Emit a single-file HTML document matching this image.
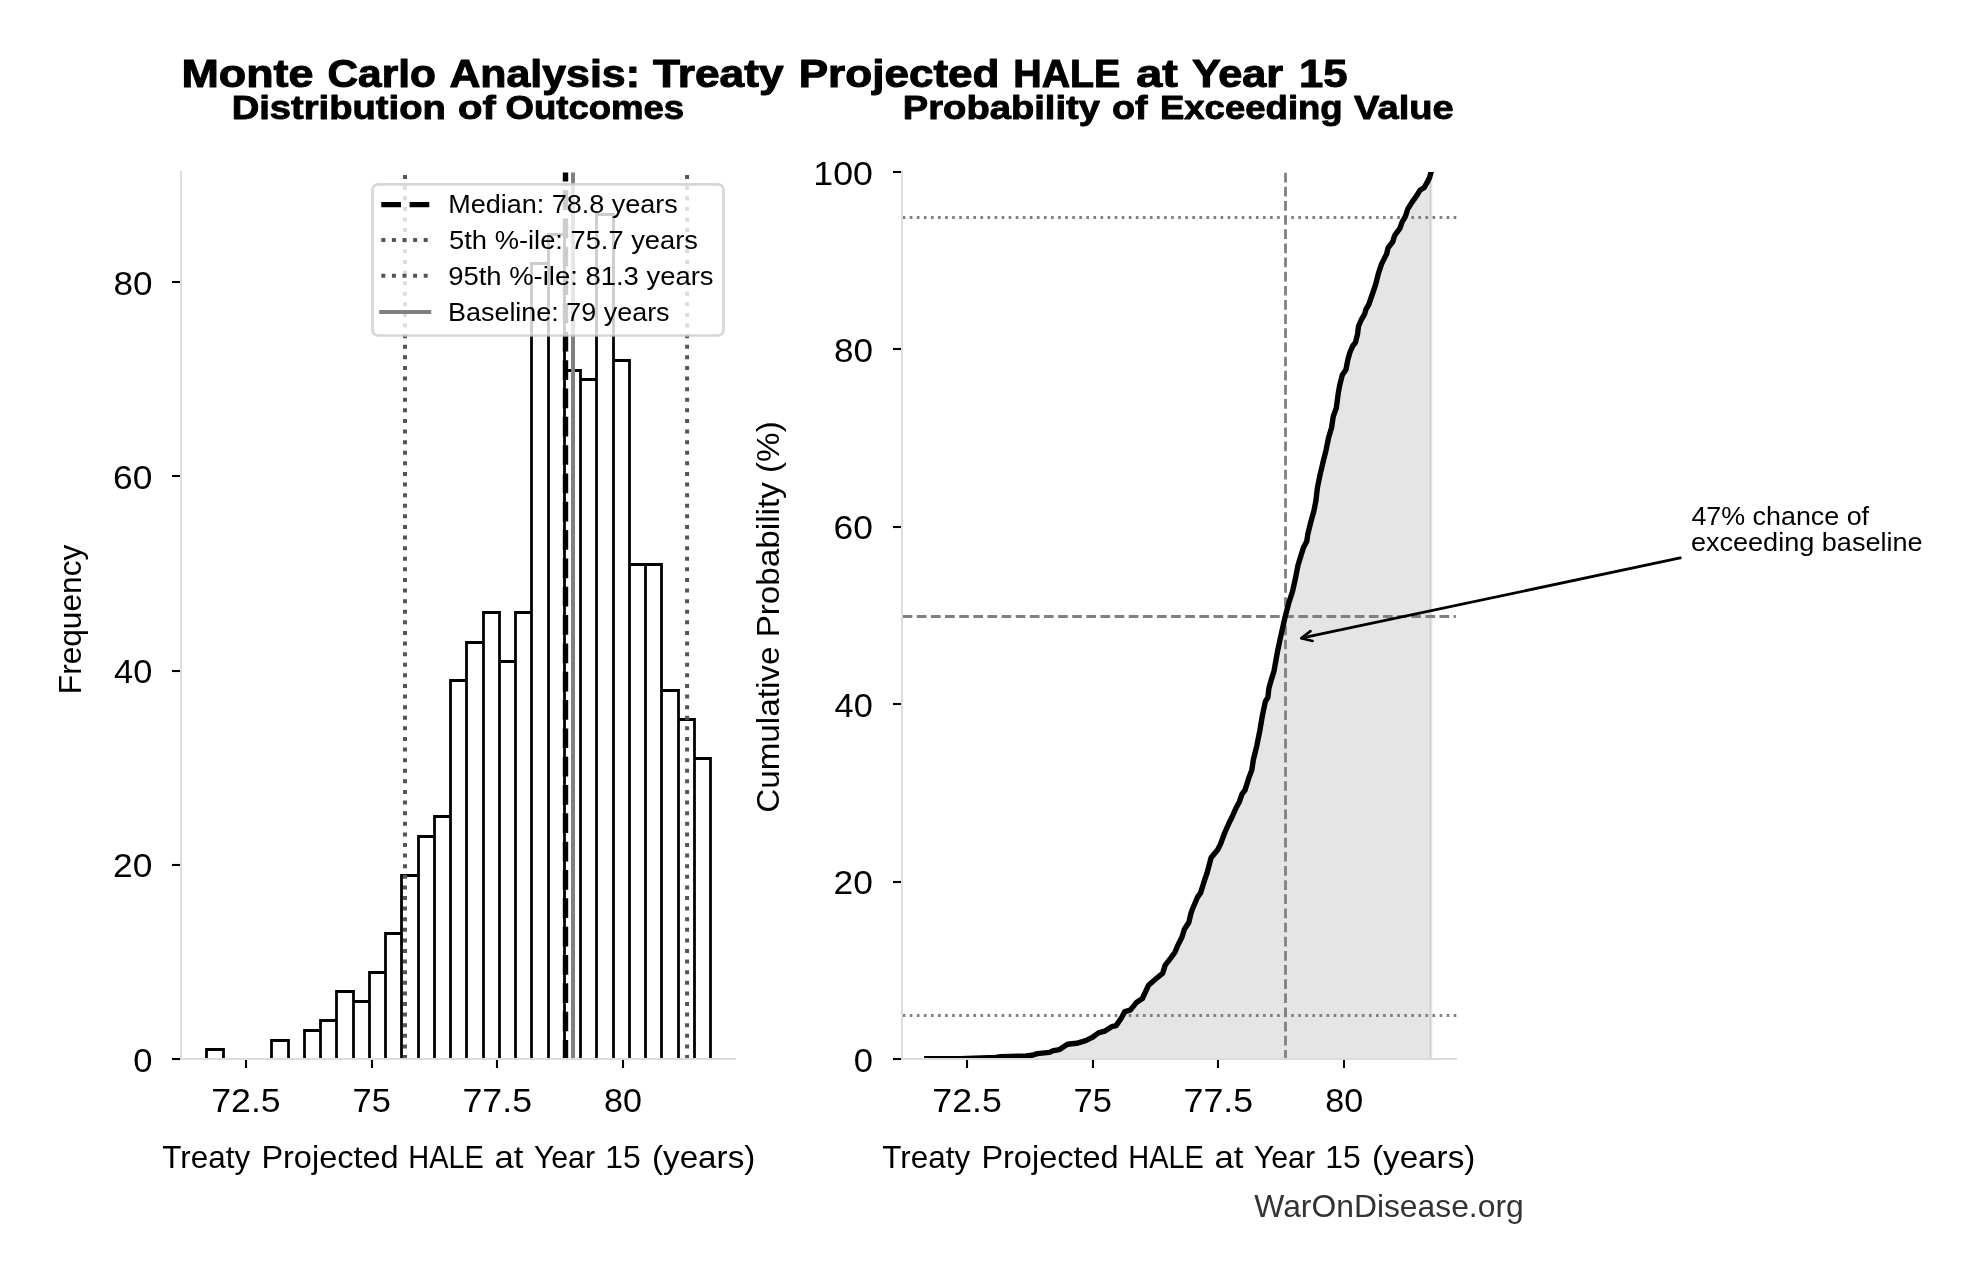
<!DOCTYPE html>
<html lang="en"><head><meta charset="utf-8"><title>Monte Carlo Analysis: Treaty Projected HALE at Year 15</title><style>html,body{margin:0;padding:0;background:#fff;}body{width:1979px;height:1280px;overflow:hidden;font-family:"Liberation Sans", sans-serif;}svg text{white-space:pre;}</style></head><body>
<svg width="1979" height="1280" viewBox="0 0 1979 1280" font-family='"Liberation Sans", sans-serif' style="display:block;will-change:transform">
<rect width="1979" height="1280" fill="#fff"/>
<text x="181.5" y="86.9" font-size="38.1" text-anchor="start" font-weight="bold" fill="#000" textLength="132.0" lengthAdjust="spacingAndGlyphs" stroke="#000" stroke-width="1.0" stroke-linejoin="round">Monte</text>
<text x="327.5" y="86.9" font-size="38.1" text-anchor="start" font-weight="bold" fill="#000" textLength="108.4" lengthAdjust="spacingAndGlyphs" stroke="#000" stroke-width="1.0" stroke-linejoin="round">Carlo</text>
<text x="449.4" y="86.9" font-size="38.1" text-anchor="start" font-weight="bold" fill="#000" textLength="190.6" lengthAdjust="spacingAndGlyphs" stroke="#000" stroke-width="1.0" stroke-linejoin="round">Analysis:</text>
<text x="653.1" y="86.9" font-size="38.1" text-anchor="start" font-weight="bold" fill="#000" textLength="130.5" lengthAdjust="spacingAndGlyphs" stroke="#000" stroke-width="1.0" stroke-linejoin="round">Treaty</text>
<text x="798.7" y="86.9" font-size="38.1" text-anchor="start" font-weight="bold" fill="#000" textLength="200.8" lengthAdjust="spacingAndGlyphs" stroke="#000" stroke-width="1.0" stroke-linejoin="round">Projected</text>
<text x="1013.2" y="86.9" font-size="38.1" text-anchor="start" font-weight="bold" fill="#000" textLength="107.2" lengthAdjust="spacingAndGlyphs" stroke="#000" stroke-width="1.0" stroke-linejoin="round">HALE</text>
<text x="1136.3" y="86.9" font-size="38.1" text-anchor="start" font-weight="bold" fill="#000" textLength="41.6" lengthAdjust="spacingAndGlyphs" stroke="#000" stroke-width="1.0" stroke-linejoin="round">at</text>
<text x="1191.9" y="86.9" font-size="38.1" text-anchor="start" font-weight="bold" fill="#000" textLength="91.3" lengthAdjust="spacingAndGlyphs" stroke="#000" stroke-width="1.0" stroke-linejoin="round">Year</text>
<text x="1299.1" y="86.9" font-size="38.1" text-anchor="start" font-weight="bold" fill="#000" textLength="48.5" lengthAdjust="spacingAndGlyphs" stroke="#000" stroke-width="1.0" stroke-linejoin="round">15</text>
<text x="231.7" y="119.0" font-size="32.8" text-anchor="start" font-weight="bold" fill="#000" textLength="214.1" lengthAdjust="spacingAndGlyphs" stroke="#000" stroke-width="0.9" stroke-linejoin="round">Distribution</text>
<text x="458.0" y="119.0" font-size="32.8" text-anchor="start" font-weight="bold" fill="#000" textLength="37.8" lengthAdjust="spacingAndGlyphs" stroke="#000" stroke-width="0.9" stroke-linejoin="round">of</text>
<text x="505.5" y="119.0" font-size="32.8" text-anchor="start" font-weight="bold" fill="#000" textLength="178.7" lengthAdjust="spacingAndGlyphs" stroke="#000" stroke-width="0.9" stroke-linejoin="round">Outcomes</text>
<text x="902.8" y="119.0" font-size="32.8" text-anchor="start" font-weight="bold" fill="#000" textLength="197.1" lengthAdjust="spacingAndGlyphs" stroke="#000" stroke-width="0.9" stroke-linejoin="round">Probability</text>
<text x="1111.9" y="119.0" font-size="32.8" text-anchor="start" font-weight="bold" fill="#000" textLength="35.6" lengthAdjust="spacingAndGlyphs" stroke="#000" stroke-width="0.9" stroke-linejoin="round">of</text>
<text x="1159.9" y="119.0" font-size="32.8" text-anchor="start" font-weight="bold" fill="#000" textLength="182.8" lengthAdjust="spacingAndGlyphs" stroke="#000" stroke-width="0.9" stroke-linejoin="round">Exceeding</text>
<text x="1354.1" y="119.0" font-size="32.8" text-anchor="start" font-weight="bold" fill="#000" textLength="99.7" lengthAdjust="spacingAndGlyphs" stroke="#000" stroke-width="0.9" stroke-linejoin="round">Value</text>
<path d="M206.50 1059.0V1049.50H223.50V1059.0M271.50 1059.0V1040.50H288.50V1059.0M304.50 1059.0V1030.50H320.50V1059.0M320.50 1059.0V1020.50H336.50V1059.0M336.50 1059.0V991.50H353.50V1059.0M353.50 1059.0V1001.50H369.50V1059.0M369.50 1059.0V972.50H385.50V1059.0M385.50 1059.0V933.50H401.50V1059.0M401.50 1059.0V875.50H418.50V1059.0M418.50 1059.0V836.50H434.50V1059.0M434.50 1059.0V816.50H450.50V1059.0M450.50 1059.0V680.50H466.50V1059.0M466.50 1059.0V642.50H483.50V1059.0M483.50 1059.0V612.50H499.50V1059.0M499.50 1059.0V661.50H515.50V1059.0M515.50 1059.0V612.50H531.50V1059.0M531.50 1059.0V263.50H548.50V1059.0M548.50 1059.0V234.50H564.50V1059.0M564.50 1059.0V370.50H580.50V1059.0M580.50 1059.0V379.50H596.50V1059.0M596.50 1059.0V214.50H613.50V1059.0M613.50 1059.0V360.50H629.50V1059.0M629.50 1059.0V564.50H645.50V1059.0M645.50 1059.0V564.50H661.50V1059.0M661.50 1059.0V690.50H678.50V1059.0M678.50 1059.0V719.50H694.50V1059.0M694.50 1059.0V758.50H710.50V1059.0" fill="#fff" stroke="#000" stroke-width="2.78" stroke-linejoin="miter"/>
<path d="M565.5 1059.7V172.4" stroke="#000" stroke-width="5.4" stroke-dasharray="19.72 8.606" fill="none"/>
<path d="M405.0 1059.0V172.4" stroke="#555" stroke-width="4" stroke-dasharray="4 6.601" fill="none"/>
<path d="M687.1 1059.0V172.4" stroke="#555" stroke-width="4" stroke-dasharray="4 6.601" fill="none"/>
<path d="M573.0 1059.7V172.4" stroke="#808080" stroke-width="4" fill="none"/>
<path d="M181.0 171.0V1060.0" stroke="#dcdcdc" stroke-width="2" fill="none"/>
<path d="M180.0 1059.0H735.9" stroke="#dcdcdc" stroke-width="2" fill="none"/>
<path d="M246 1060.0v8.0" stroke="#000" stroke-width="2.1"/>
<text x="211.2" y="1111.9" font-size="32.5" text-anchor="start" fill="#000" textLength="69.5" lengthAdjust="spacingAndGlyphs">72.5</text>
<path d="M372 1060.0v8.0" stroke="#000" stroke-width="2.1"/>
<text x="352.5" y="1111.9" font-size="32.5" text-anchor="start" fill="#000" textLength="38.3" lengthAdjust="spacingAndGlyphs">75</text>
<path d="M497 1060.0v8.0" stroke="#000" stroke-width="2.1"/>
<text x="462.5" y="1111.9" font-size="32.5" text-anchor="start" fill="#000" textLength="69.5" lengthAdjust="spacingAndGlyphs">77.5</text>
<path d="M623 1060.0v8.0" stroke="#000" stroke-width="2.1"/>
<text x="604.1" y="1111.9" font-size="32.5" text-anchor="start" fill="#000" textLength="37.9" lengthAdjust="spacingAndGlyphs">80</text>
<path d="M180.0 1059h-8.0" stroke="#000" stroke-width="2.1"/>
<text x="133.2" y="1071.7" font-size="32.5" text-anchor="start" fill="#000" textLength="19.2" lengthAdjust="spacingAndGlyphs">0</text>
<path d="M180.0 865h-8.0" stroke="#000" stroke-width="2.1"/>
<text x="113.1" y="877.4" font-size="32.5" text-anchor="start" fill="#000" textLength="39.3" lengthAdjust="spacingAndGlyphs">20</text>
<path d="M180.0 671h-8.0" stroke="#000" stroke-width="2.1"/>
<text x="114.1" y="683.2" font-size="32.5" text-anchor="start" fill="#000" textLength="38.2" lengthAdjust="spacingAndGlyphs">40</text>
<path d="M180.0 476h-8.0" stroke="#000" stroke-width="2.1"/>
<text x="113.1" y="488.9" font-size="32.5" text-anchor="start" fill="#000" textLength="39.3" lengthAdjust="spacingAndGlyphs">60</text>
<path d="M180.0 282h-8.0" stroke="#000" stroke-width="2.1"/>
<text x="113.4" y="294.6" font-size="32.5" text-anchor="start" fill="#000" textLength="39.0" lengthAdjust="spacingAndGlyphs">80</text>
<text x="162.3" y="1167.8" font-size="31.1" text-anchor="start" fill="#000" textLength="87.8" lengthAdjust="spacingAndGlyphs">Treaty</text>
<text x="261.4" y="1167.8" font-size="31.1" text-anchor="start" fill="#000" textLength="137.2" lengthAdjust="spacingAndGlyphs">Projected</text>
<text x="408.3" y="1167.8" font-size="31.1" text-anchor="start" fill="#000" textLength="75.6" lengthAdjust="spacingAndGlyphs">HALE</text>
<text x="494.6" y="1167.8" font-size="31.1" text-anchor="start" fill="#000" textLength="28.9" lengthAdjust="spacingAndGlyphs">at</text>
<text x="533.9" y="1167.8" font-size="31.1" text-anchor="start" fill="#000" textLength="61.1" lengthAdjust="spacingAndGlyphs">Year</text>
<text x="605.2" y="1167.8" font-size="31.1" text-anchor="start" fill="#000" textLength="35.5" lengthAdjust="spacingAndGlyphs">15</text>
<text x="652.0" y="1167.8" font-size="31.1" text-anchor="start" fill="#000" textLength="103.3" lengthAdjust="spacingAndGlyphs">(years)</text>
<text transform="translate(80.9,694.2) rotate(-90)" font-size="31.1" text-anchor="start" fill="#000" textLength="149.5" lengthAdjust="spacingAndGlyphs">Frequency</text>
<rect x="372.5" y="184.3" width="351.0" height="151.2" rx="5.5" ry="5.5" fill="#fff" fill-opacity="0.8" stroke="#ccc" stroke-opacity="0.8" stroke-width="2.7"/>
<path d="M381.3 204.6H430.8" stroke="#000" stroke-width="5.4" stroke-dasharray="19.7 8.6" fill="none"/>
<path d="M381.3 240.0H430.8" stroke="#555" stroke-width="4" stroke-dasharray="4 6.6" fill="none"/>
<path d="M381.3 275.8H430.8" stroke="#555" stroke-width="4" stroke-dasharray="4 6.6" fill="none"/>
<path d="M379.2 312.0H431.2" stroke="#808080" stroke-width="4" fill="none"/>
<text x="448.2" y="212.8" font-size="25.7" text-anchor="start" fill="#000" textLength="229.6" lengthAdjust="spacingAndGlyphs">Median: 78.8 years</text>
<text x="449.1" y="248.7" font-size="25.7" text-anchor="start" fill="#000" textLength="248.9" lengthAdjust="spacingAndGlyphs">5th %-ile: 75.7 years</text>
<text x="448.2" y="284.6" font-size="25.7" text-anchor="start" fill="#000" textLength="265.4" lengthAdjust="spacingAndGlyphs">95th %-ile: 81.3 years</text>
<text x="448.0" y="320.5" font-size="25.7" text-anchor="start" fill="#000" textLength="221.6" lengthAdjust="spacingAndGlyphs">Baseline: 79 years</text>
<clipPath id="rc"><rect x="902.0" y="172.0" width="554.9" height="887.7"/></clipPath>
<g clip-path="url(#rc)">
<polygon points="926.8,1059.7 926.8,1058.8 960.0,1058.6 995.8,1057.5 1000.8,1056.7 1026.1,1056.0 1032.2,1055.2 1037.2,1053.6 1049.4,1052.4 1053.4,1050.6 1059.5,1049.6 1067.5,1044.3 1076.6,1043.3 1085.7,1040.7 1091.8,1037.7 1098.9,1032.6 1105.0,1031.1 1112.0,1026.6 1116.1,1025.6 1121.2,1018.2 1124.8,1011.6 1130.3,1010.1 1136.4,1002.5 1142.4,998.5 1148.5,985.3 1156.6,978.3 1162.7,973.2 1165.2,965.1 1170.7,958.1 1174.8,952.5 1177.8,945.4 1181.9,937.3 1184.4,929.3 1188.9,922.2 1191.0,913.1 1192.5,909.0 1197.5,897.2 1200.5,893.1 1204.6,880.0 1207.1,872.9 1211.1,857.8 1217.7,849.7 1220.7,843.6 1224.8,832.5 1229.8,821.4 1232.4,816.3 1235.9,808.2 1239.4,801.7 1242.0,794.1 1245.0,790.1 1248.7,778.2 1251.8,770.1 1253.3,760.0 1256.8,745.8 1259.8,730.7 1262.4,715.5 1265.4,701.4 1267.9,697.3 1268.9,688.2 1271.5,679.1 1274.0,671.1 1277.8,650.1 1280.8,636.0 1284.9,617.8 1288.9,602.6 1292.5,591.5 1295.0,580.4 1298.0,565.2 1301.1,555.1 1303.5,547.5 1306.8,541.2 1307.8,534.1 1310.8,522.0 1313.9,510.9 1315.9,500.8 1317.4,487.7 1319.9,475.5 1323.0,462.4 1326.0,450.3 1328.5,438.1 1331.6,427.5 1333.3,416.2 1336.3,408.1 1338.3,392.9 1339.8,384.8 1342.4,374.7 1345.9,369.7 1347.9,359.6 1349.9,352.5 1353.0,345.4 1355.5,342.4 1357.5,334.3 1358.5,326.2 1361.1,320.2 1364.6,314.1 1366.1,309.0 1368.6,305.0 1375.5,285.0 1378.5,273.2 1381.5,264.1 1386.6,254.0 1388.1,247.9 1392.7,241.9 1394.7,235.3 1399.7,228.7 1402.3,221.6 1405.3,216.6 1407.8,209.0 1411.9,202.4 1416.9,195.4 1419.9,190.3 1424.0,187.8 1427.0,182.7 1429.5,177.7 1431.0,172.4 1431.0,1059.7" fill="#000" fill-opacity="0.1" stroke="#000" stroke-opacity="0.1" stroke-width="2.78" stroke-linejoin="miter"/>
<path d="M902.7 616.5H1455.9" stroke="#808080" stroke-width="2.8" stroke-dasharray="9.68 4.447" fill="none"/>
<path d="M1285.5 1059.7V172.4" stroke="#808080" stroke-width="2.8" stroke-dasharray="9.7 4.45" fill="none"/>
<path d="M902.7 217.5H1456.9" stroke="#808080" stroke-width="2.8" stroke-dasharray="2.67 4.394" fill="none"/>
<path d="M902.7 1015.5H1456.9" stroke="#808080" stroke-width="2.8" stroke-dasharray="2.67 4.394" fill="none"/>
<polyline points="926.8,1058.8 960.0,1058.6 995.8,1057.5 1000.8,1056.7 1026.1,1056.0 1032.2,1055.2 1037.2,1053.6 1049.4,1052.4 1053.4,1050.6 1059.5,1049.6 1067.5,1044.3 1076.6,1043.3 1085.7,1040.7 1091.8,1037.7 1098.9,1032.6 1105.0,1031.1 1112.0,1026.6 1116.1,1025.6 1121.2,1018.2 1124.8,1011.6 1130.3,1010.1 1136.4,1002.5 1142.4,998.5 1148.5,985.3 1156.6,978.3 1162.7,973.2 1165.2,965.1 1170.7,958.1 1174.8,952.5 1177.8,945.4 1181.9,937.3 1184.4,929.3 1188.9,922.2 1191.0,913.1 1192.5,909.0 1197.5,897.2 1200.5,893.1 1204.6,880.0 1207.1,872.9 1211.1,857.8 1217.7,849.7 1220.7,843.6 1224.8,832.5 1229.8,821.4 1232.4,816.3 1235.9,808.2 1239.4,801.7 1242.0,794.1 1245.0,790.1 1248.7,778.2 1251.8,770.1 1253.3,760.0 1256.8,745.8 1259.8,730.7 1262.4,715.5 1265.4,701.4 1267.9,697.3 1268.9,688.2 1271.5,679.1 1274.0,671.1 1277.8,650.1 1280.8,636.0 1284.9,617.8 1288.9,602.6 1292.5,591.5 1295.0,580.4 1298.0,565.2 1301.1,555.1 1303.5,547.5 1306.8,541.2 1307.8,534.1 1310.8,522.0 1313.9,510.9 1315.9,500.8 1317.4,487.7 1319.9,475.5 1323.0,462.4 1326.0,450.3 1328.5,438.1 1331.6,427.5 1333.3,416.2 1336.3,408.1 1338.3,392.9 1339.8,384.8 1342.4,374.7 1345.9,369.7 1347.9,359.6 1349.9,352.5 1353.0,345.4 1355.5,342.4 1357.5,334.3 1358.5,326.2 1361.1,320.2 1364.6,314.1 1366.1,309.0 1368.6,305.0 1375.5,285.0 1378.5,273.2 1381.5,264.1 1386.6,254.0 1388.1,247.9 1392.7,241.9 1394.7,235.3 1399.7,228.7 1402.3,221.6 1405.3,216.6 1407.8,209.0 1411.9,202.4 1416.9,195.4 1419.9,190.3 1424.0,187.8 1427.0,182.7 1429.5,177.7 1431.0,172.4" fill="none" stroke="#000" stroke-width="5.4" stroke-linejoin="round" stroke-linecap="square"/>
</g>
<path d="M902.0 171.0V1060.0" stroke="#dcdcdc" stroke-width="2" fill="none"/>
<path d="M901.0 1059.0H1456.9" stroke="#dcdcdc" stroke-width="2" fill="none"/>
<path d="M967 1060.0v8.0" stroke="#000" stroke-width="2.1"/>
<text x="932.3" y="1111.9" font-size="32.5" text-anchor="start" fill="#000" textLength="69.5" lengthAdjust="spacingAndGlyphs">72.5</text>
<path d="M1093 1060.0v8.0" stroke="#000" stroke-width="2.1"/>
<text x="1073.6" y="1111.9" font-size="32.5" text-anchor="start" fill="#000" textLength="38.3" lengthAdjust="spacingAndGlyphs">75</text>
<path d="M1218 1060.0v8.0" stroke="#000" stroke-width="2.1"/>
<text x="1183.6" y="1111.9" font-size="32.5" text-anchor="start" fill="#000" textLength="69.5" lengthAdjust="spacingAndGlyphs">77.5</text>
<path d="M1344 1060.0v8.0" stroke="#000" stroke-width="2.1"/>
<text x="1325.2" y="1111.9" font-size="32.5" text-anchor="start" fill="#000" textLength="37.9" lengthAdjust="spacingAndGlyphs">80</text>
<path d="M901.0 1059h-8.0" stroke="#000" stroke-width="2.1"/>
<text x="853.7" y="1071.8" font-size="32.5" text-anchor="start" fill="#000" textLength="19.2" lengthAdjust="spacingAndGlyphs">0</text>
<path d="M901.0 882h-8.0" stroke="#000" stroke-width="2.1"/>
<text x="833.6" y="894.3" font-size="32.5" text-anchor="start" fill="#000" textLength="39.3" lengthAdjust="spacingAndGlyphs">20</text>
<path d="M901.0 704h-8.0" stroke="#000" stroke-width="2.1"/>
<text x="834.6" y="716.9" font-size="32.5" text-anchor="start" fill="#000" textLength="38.2" lengthAdjust="spacingAndGlyphs">40</text>
<path d="M901.0 527h-8.0" stroke="#000" stroke-width="2.1"/>
<text x="833.6" y="539.4" font-size="32.5" text-anchor="start" fill="#000" textLength="39.3" lengthAdjust="spacingAndGlyphs">60</text>
<path d="M901.0 349h-8.0" stroke="#000" stroke-width="2.1"/>
<text x="833.9" y="362.0" font-size="32.5" text-anchor="start" fill="#000" textLength="39.0" lengthAdjust="spacingAndGlyphs">80</text>
<path d="M901.0 172h-8.0" stroke="#000" stroke-width="2.1"/>
<text x="813.3" y="184.5" font-size="32.5" text-anchor="start" fill="#000" textLength="59.6" lengthAdjust="spacingAndGlyphs">100</text>
<text x="882.3" y="1167.8" font-size="31.1" text-anchor="start" fill="#000" textLength="87.8" lengthAdjust="spacingAndGlyphs">Treaty</text>
<text x="981.4" y="1167.8" font-size="31.1" text-anchor="start" fill="#000" textLength="137.2" lengthAdjust="spacingAndGlyphs">Projected</text>
<text x="1128.3" y="1167.8" font-size="31.1" text-anchor="start" fill="#000" textLength="75.6" lengthAdjust="spacingAndGlyphs">HALE</text>
<text x="1214.6" y="1167.8" font-size="31.1" text-anchor="start" fill="#000" textLength="28.9" lengthAdjust="spacingAndGlyphs">at</text>
<text x="1253.9" y="1167.8" font-size="31.1" text-anchor="start" fill="#000" textLength="61.1" lengthAdjust="spacingAndGlyphs">Year</text>
<text x="1325.2" y="1167.8" font-size="31.1" text-anchor="start" fill="#000" textLength="35.5" lengthAdjust="spacingAndGlyphs">15</text>
<text x="1372.0" y="1167.8" font-size="31.1" text-anchor="start" fill="#000" textLength="103.3" lengthAdjust="spacingAndGlyphs">(years)</text>
<text transform="translate(778.9,812.8) rotate(-90)" font-size="31.1" text-anchor="start" fill="#000" textLength="391.5" lengthAdjust="spacingAndGlyphs">Cumulative Probability (%)</text>
<text x="1691.4" y="524.9" font-size="25.7" text-anchor="start" fill="#000" textLength="177.7" lengthAdjust="spacingAndGlyphs">47% chance of</text>
<text x="1690.9" y="551.0" font-size="25.7" text-anchor="start" fill="#000" textLength="231.7" lengthAdjust="spacingAndGlyphs">exceeding baseline</text>
<path d="M1681.4 557.7L1301.2 638.2" stroke="#000" stroke-width="2.75" fill="none"/>
<path d="M1312.6 640.9L1301.2 638.2L1310.5 631.1" stroke="#000" stroke-width="2.6" fill="none" stroke-linecap="round" stroke-linejoin="round"/>
<text x="1254.3" y="1216.8" font-size="31.1" text-anchor="start" fill="#333" textLength="269.4" lengthAdjust="spacingAndGlyphs">WarOnDisease.org</text>
</svg>
</body></html>
